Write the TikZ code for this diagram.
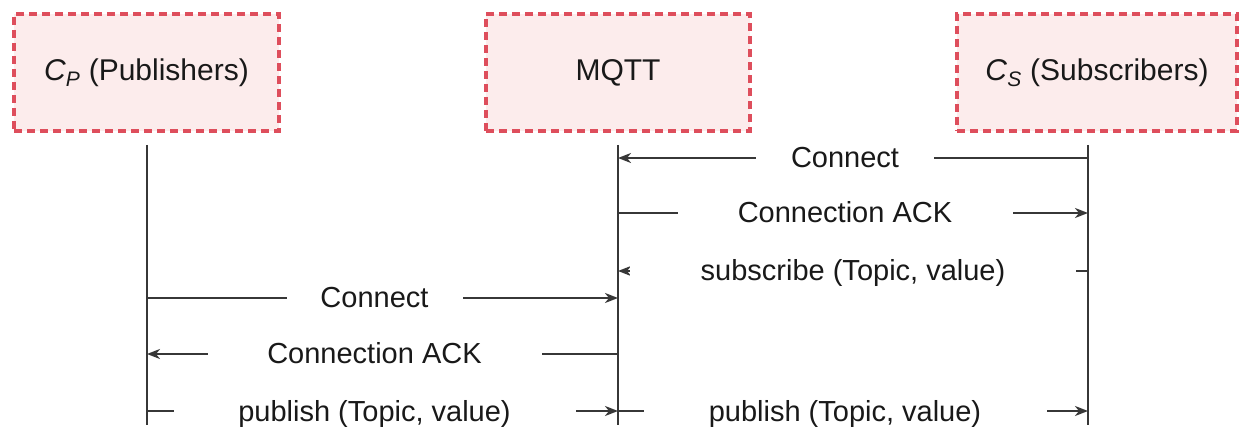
\documentclass[tikz,border=0pt]{standalone}
\usepackage{fontspec}
\setmainfont{Liberation Sans}
\usetikzlibrary{arrows.meta}
\definecolor{boxred}{RGB}{222,78,92}
\definecolor{boxfill}{RGB}{252,236,236}
\definecolor{wire}{RGB}{55,55,55}
\definecolor{ink}{RGB}{25,25,25}
\tikzset{
  actor/.style={draw=boxred, fill=boxfill, line width=3.5pt,
    dash pattern=on 8pt off 5pt, minimum height=117pt,
    text=ink, font=\fontsize{30}{34}\selectfont},
  lifeline/.style={draw=wire, line width=2.2pt},
  msg/.style={draw=wire, line width=2.2pt, -{Stealth[length=13pt,width=10pt,inset=4pt]}},
  msglabel/.style={midway, xshift=-8pt, fill=white, inner xsep=0pt, inner ysep=2pt,
    text height=20pt, text depth=0pt, text=ink,
    font=\fontsize{29}{33}\selectfont, minimum width=#1}
}
\begin{document}
\begin{tikzpicture}[x=1pt,y=-1pt]
  \useasboundingbox (0,0) rectangle (1248,427);

  % participants
  \node[actor, minimum width=265pt] (cp) at (146.5,72.5)
    {\textit{C}\textsubscript{\textit{P}} (Publishers)};
  \node[actor, minimum width=264pt] (mq) at (618,72.5) {MQTT};
  \node[actor, minimum width=280pt] (cs) at (1097,72.5)
    {\textit{C}\textsubscript{\textit{S}} (Subscribers)};

  % lifelines
  \coordinate (cpTop) at (147,145);  \coordinate (cpBot) at (147,425);
  \coordinate (mqTop) at (618,145);  \coordinate (mqBot) at (618,425);
  \coordinate (csTop) at (1088,145); \coordinate (csBot) at (1088,425);
  \draw[lifeline] (cpTop) -- (cpBot);
  \draw[lifeline] (mqTop) -- (mqBot);
  \draw[lifeline] (csTop) -- (csBot);

  % message anchor points on the lifelines
  \foreach \n/\y in {1/158, 2/213, 3/271, 4/298, 5/354, 6/411} {
    \coordinate (p\n) at (147,\y);
    \coordinate (m\n) at (618,\y);
    \coordinate (s\n) at (1088,\y);
  }

  % subscriber side
  \draw[msg] (s1) -- (m1) node[msglabel=178pt] (l1) {Connect};
  \draw[msg] (m2) -- (s2) node[msglabel=335pt] (l2) {Connection ACK};
  \draw[msg] (s3) -- (m3) node[msglabel=446pt, xshift=8pt] (l3) {subscribe (Topic, value)};

  % publisher side
  \draw[msg] (p4) -- (m4) node[msglabel=176pt] (l4) {Connect};
  \draw[msg] (m5) -- (p5) node[msglabel=334pt] (l5) {Connection ACK};
  \draw[msg] (p6) -- (m6) node[msglabel=402pt] (l6) {publish (Topic, value)};

  % forwarded publication
  \draw[msg] (m6) -- (s6) node[msglabel=403pt] (l7) {publish (Topic, value)};
\end{tikzpicture}
\end{document}
